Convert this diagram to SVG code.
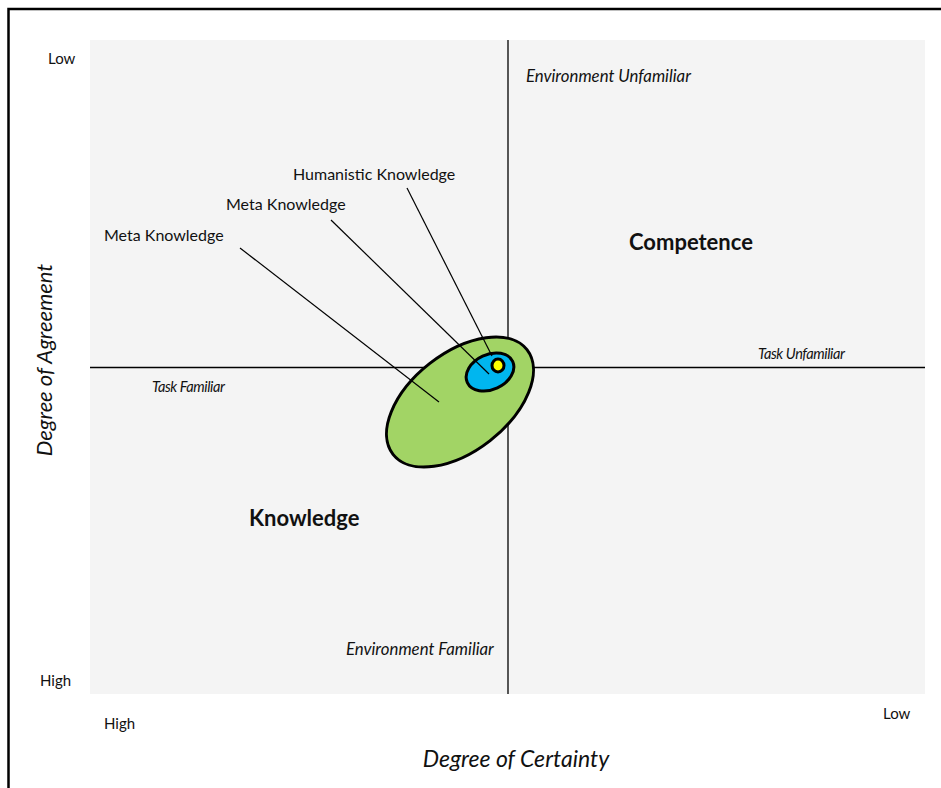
<svg xmlns="http://www.w3.org/2000/svg" width="941" height="788" viewBox="0 0 941 788">
<style>
text{font-family:Lato,"Open Sans","Liberation Sans",sans-serif;fill:#111}
.lbl{font-size:16px}
.it{font-style:italic;font-size:16.8px}
.task{font-style:italic;font-size:14.5px;letter-spacing:-0.4px}
.big{font-weight:bold;font-size:22px}
.axis{font-style:italic;font-size:23px}
.sm{font-size:15px}
.ax{stroke:#000;stroke-width:1.3}
.lead{stroke:#000;stroke-width:1.2}
.e{stroke:#000;stroke-width:3}
</style>
<rect x="0" y="0" width="941" height="788" fill="#fff"/>
<path d="M8.5 788 V9 H941" fill="none" stroke="#000" stroke-width="2.5"/>
<rect x="90" y="40" width="835" height="654" fill="#f4f4f4"/>
<g id="axes">
<line class="ax" x1="508" y1="40" x2="508" y2="694"/>
<line class="ax" x1="90" y1="367.5" x2="925" y2="367.5"/>
</g>
<g id="ellipses">
<g id="outer"><ellipse class="e" cx="460" cy="402" rx="85" ry="49" fill="#a2d465" transform="rotate(-38 460 402)"/></g>
<g id="middle"><ellipse class="e" cx="490" cy="372" rx="25" ry="17.5" fill="#00b6ef" transform="rotate(-25 490 372)"/></g>
<g id="inner"><ellipse class="e" cx="498" cy="365.5" rx="6" ry="6.5" fill="#ffff00" stroke-width="2.5"/></g>
</g>
<g id="connectors">
<line class="lead" x1="407" y1="188" x2="492" y2="356"/>
<line class="lead" x1="331" y1="220" x2="489" y2="374"/>
<line class="lead" x1="240" y1="248" x2="439" y2="402"/>
</g>
<g id="labels">
<text class="lbl" x="293" y="180">Humanistic Knowledge</text>
<text class="lbl" x="226" y="210">Meta Knowledge</text>
<text class="lbl" x="104" y="241">Meta Knowledge</text>
<text class="big" x="629" y="250">Competence</text>
<text class="big" x="249" y="526">Knowledge</text>
<text class="it" x="526" y="82">Environment Unfamiliar</text>
<text class="it" x="346" y="655">Environment Familiar</text>
<text class="task" x="152" y="392">Task Familiar</text>
<text class="task" x="758" y="359">Task Unfamiliar</text>
<text class="sm" x="48" y="64">Low</text>
<text class="sm" x="40" y="686">High</text>
<text class="sm" x="104" y="729">High</text>
<text class="sm" x="883" y="719">Low</text>
<text class="axis" x="516" y="767" text-anchor="middle">Degree of Certainty</text>
<text class="axis" x="0" y="0" text-anchor="middle" style="font-size:22px" transform="translate(52 360) rotate(-90)">Degree of Agreement</text>
</g>
</svg>
